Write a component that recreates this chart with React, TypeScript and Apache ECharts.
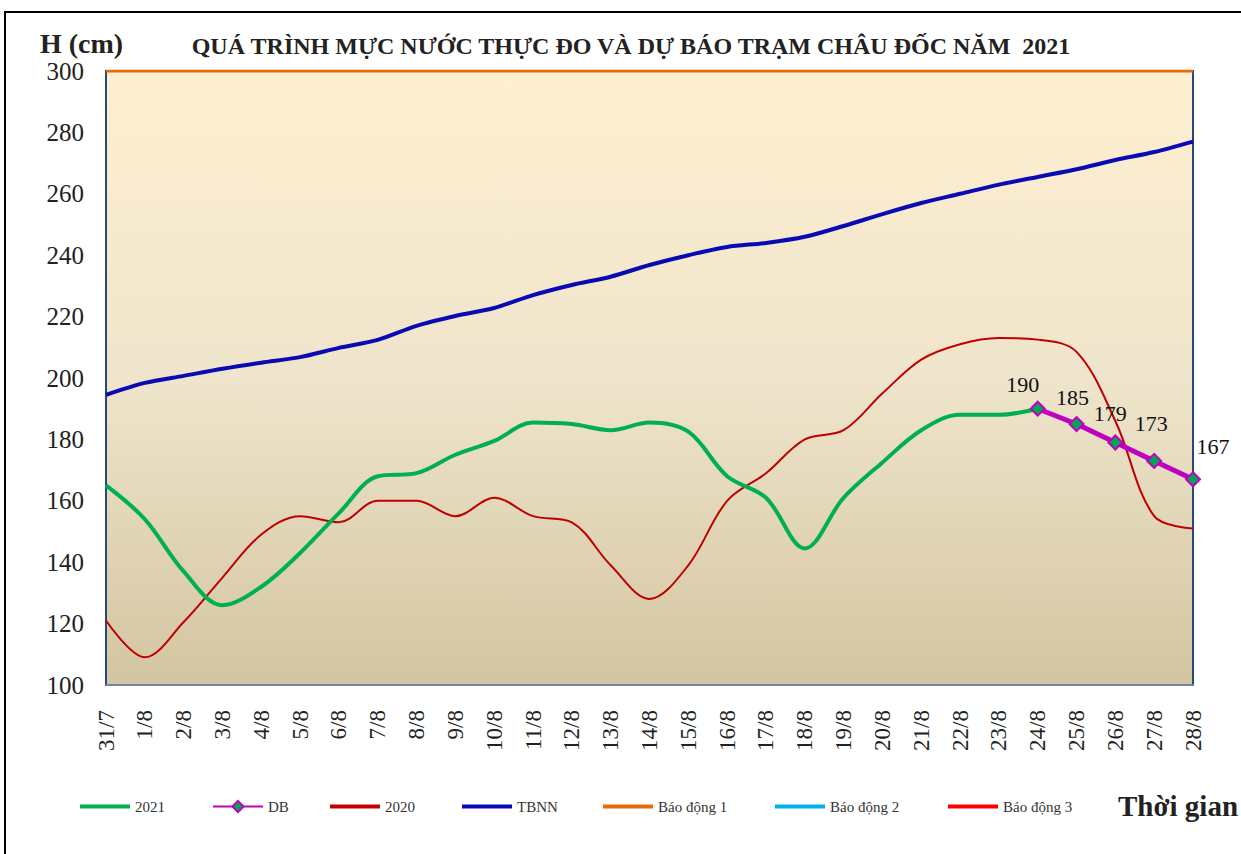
import React, { useEffect, useRef } from "react";
import * as echarts from "echarts";

const categories = ["31/7","1/8","2/8","3/8","4/8","5/8","6/8","7/8","8/8","9/8","10/8","11/8","12/8","13/8","14/8","15/8","16/8","17/8","18/8","19/8","20/8","21/8","22/8","23/8","24/8","25/8","26/8","27/8","28/8"];

const s2021: (number | null)[] = [165,154,137,126,132,143,156,168,169,175,179.5,185.5,185,183,185.5,182.5,168,161,144.5,161,172.5,183,188,188,190,null,null,null,null];
const sDB: (number | null)[] = [null,null,null,null,null,null,null,null,null,null,null,null,null,null,null,null,null,null,null,null,null,null,null,null,190,185,179,173,167];
const s2020: number[] = [121,109,120.5,135,149,155,153,160,160,155,161,155,153,139,128,139,160,169,180,183,195,206,211,213,212.5,208.5,186,155,151];
const sTBNN: number[] = [194.5,198.4,200.7,203,205,206.8,209.8,212.4,217,220.2,222.8,227,230.3,233,236.8,240,242.7,244,246,249.5,253.4,257,260,263,265.5,268,271,273.6,277];
const sBD1: number[] = categories.map(() => 300);
const sBD2: number[] = categories.map(() => 400);
const sBD3: number[] = categories.map(() => 450);

const yMin = 100;
const yMax = 300;
const yInterval = 20;

const dbLabelOffsets: [number, number][] = [[-15, 0], [-4, -3], [-5, -5], [-3, -13], [20, -9]];

const serif = "Liberation Serif";

export default function App() {
  const ref = useRef<HTMLDivElement>(null);
  useEffect(() => {
    if (!ref.current) return;
    const chart = echarts.init(ref.current, null, { renderer: "svg" });
    let k = 0;
    const dbData = sDB.map((v) => {
      if (v === null) return null;
      const off = dbLabelOffsets[k++] || [0, 0];
      return { value: v, label: { offset: off } };
    });
    const legendDefs = [
      { name: "2021", left: 80, color: "#00B050" },
      { name: "DB", left: 212, color: "" },
      { name: "2020", left: 330, color: "#C00000" },
      { name: "TBNN", left: 462, color: "#0A0AB4" },
      { name: "Báo động 1", left: 603, color: "#E36C09" },
      { name: "Báo động 2", left: 775, color: "#00B0F0" },
      { name: "Báo động 3", left: 948, color: "#FF0000" },
    ];
    const labelFont = { fontFamily: serif, fontWeight: "normal" as const, color: "#222" };
    chart.setOption({
      animation: false,
      backgroundColor: "#ffffff",
      textStyle: { fontFamily: serif },
      grid: {
        left: 106,
        top: 71,
        right: 48,
        bottom: 169,
        show: true,
        borderColor: "#254a7a",
        borderWidth: 2,
        backgroundColor: new echarts.graphic.LinearGradient(0, 0, 0, 1, [
          { offset: 0, color: "#FEEFD0" },
          { offset: 0.5, color: "#EFE5CC" },
          { offset: 1, color: "#D3C5A1" },
        ]),
      },
      legend: legendDefs.map((d) => ({
        data: [d.name],
        left: d.left,
        top: 799,
        padding: 0,
        itemWidth: 50,
        itemHeight: d.color ? 4 : 14,
        icon: d.color ? "rect" : undefined,
        itemGap: 0,
        textStyle: { fontFamily: serif, fontSize: 15, color: "#333" },
        selectedMode: false,
      })),
      xAxis: {
        type: "category",
        data: categories,
        boundaryGap: false,
        axisLine: { show: true, lineStyle: { color: "#8a9ab0", width: 1.5 } },
        axisTick: { show: false },
        axisLabel: {
          ...labelFont,
          rotate: 90,
          interval: 0,
          fontSize: 23,
          margin: 25,
        },
        splitLine: { show: false },
      },
      yAxis: {
        type: "value",
        min: yMin,
        max: yMax,
        interval: yInterval,
        axisLine: { show: true, lineStyle: { color: "#254a7a", width: 2 } },
        axisTick: { show: false },
        axisLabel: { ...labelFont, fontSize: 25, margin: 22 },
        splitLine: { show: false },
      },
      series: [
        {
          name: "2021",
          type: "line",
          data: s2021,
          smooth: 0.35,
          symbol: "none",
          lineStyle: { color: "#00B050", width: 4 },
          itemStyle: { color: "#00B050" },
          z: 4,
        },
        {
          name: "DB",
          type: "line",
          data: dbData,
          symbol: "diamond",
          symbolSize: 14,
          showSymbol: true,
          lineStyle: { color: "#C000C0", width: 5 },
          itemStyle: { color: "#00A651", borderColor: "#C000C0", borderWidth: 2 },
          label: {
            show: true,
            position: "top",
            fontFamily: serif,
            fontSize: 22,
            color: "#111",
          },
          z: 5,
        },
        {
          name: "2020",
          type: "line",
          data: s2020,
          smooth: 0.35,
          symbol: "none",
          lineStyle: { color: "#C00000", width: 2 },
          itemStyle: { color: "#C00000" },
          z: 3,
        },
        {
          name: "TBNN",
          type: "line",
          data: sTBNN,
          smooth: 0.3,
          symbol: "none",
          lineStyle: { color: "#0A0AB4", width: 4 },
          itemStyle: { color: "#0A0AB4" },
          z: 3,
        },
        {
          name: "Báo động 1",
          type: "line",
          data: sBD1,
          symbol: "none",
          lineStyle: { color: "#E36C09", width: 3 },
          itemStyle: { color: "#E36C09" },
          z: 6,
        },
        {
          name: "Báo động 2",
          type: "line",
          data: sBD2,
          symbol: "none",
          lineStyle: { color: "#00B0F0", width: 3 },
          itemStyle: { color: "#00B0F0" },
        },
        {
          name: "Báo động 3",
          type: "line",
          data: sBD3,
          symbol: "none",
          lineStyle: { color: "#FF0000", width: 3 },
          itemStyle: { color: "#FF0000" },
        },
      ],
      graphic: [
        {
          type: "rect",
          shape: { x: 5, y: 12, width: 1400, height: 1000 },
          style: { fill: "none", stroke: "#000", lineWidth: 2 },
          silent: true,
        },
        {
          type: "text",
          x: 40,
          y: 43,
          style: { text: "H (cm)", font: `bold 28px ${serif}`, fill: "#222", verticalAlign: "middle" },
        },
        {
          type: "text",
          x: 631,
          y: 46,
          style: {
            text: "QUÁ TRÌNH MỰC NƯỚC THỰC ĐO VÀ DỰ BÁO TRẠM CHÂU ĐỐC NĂM  2021",
            font: `bold 24px ${serif}`,
            fill: "#222",
            align: "center",
            verticalAlign: "middle",
          },
        },
        {
          type: "text",
          x: 1118,
          y: 806,
          style: {
            text: "Thời gian",
            font: `bold 29px ${serif}`,
            fill: "#222",
            verticalAlign: "middle",
          },
        },
      ],
    });
    return () => chart.dispose();
  }, []);
  return (
    <div
      ref={ref}
      style={{ position: "fixed", left: 0, top: 0, width: 1241, height: 854 }}
    />
  );
}
